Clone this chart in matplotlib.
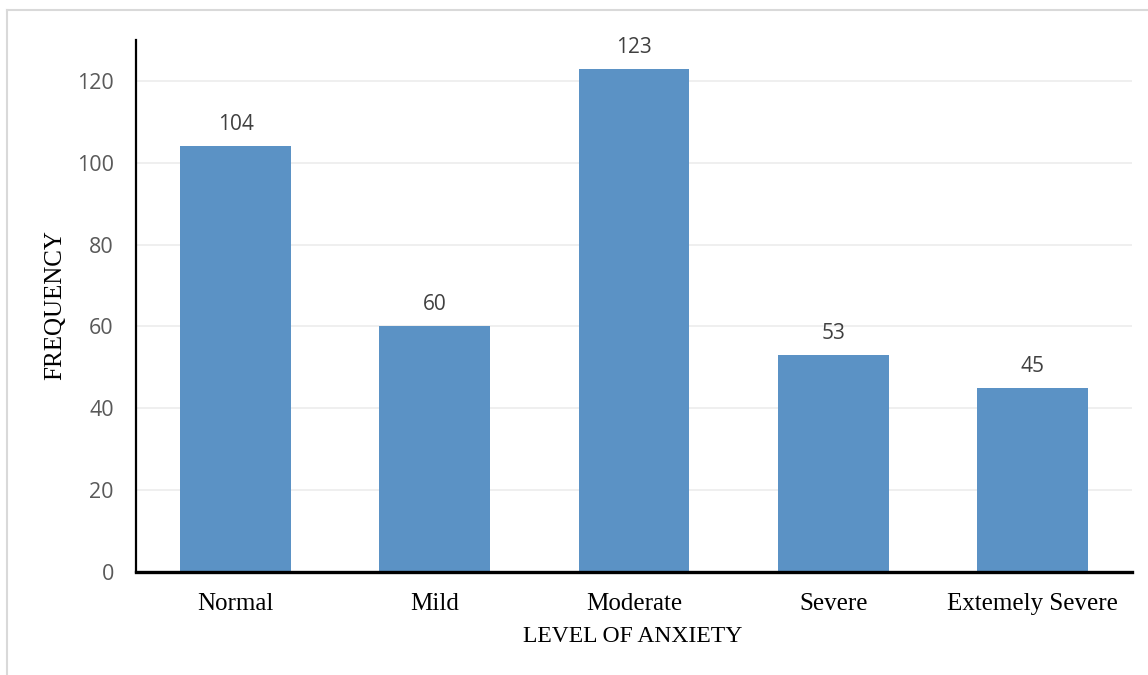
import matplotlib.pyplot as plt
from matplotlib.lines import Line2D
import numpy as np

levels = ["Normal", "Mild", "Moderate", "Severe", "Extemely Severe"]
counts = [104, 60, 123, 53, 45]
y_ticks = [0, 20, 40, 60, 80, 100, 120]

bar_color = "#5b92c5"
sans = "Open Sans"
serif = "Liberation Serif"

fig = plt.figure(figsize=(11.48, 6.75), dpi=100)
W, H = 1148, 675

# plot area in pixel coordinates
left, right, top, bottom = 136, 1132, 40, 572
ax = fig.add_axes([left / W, 1 - bottom / H, (right - left) / W, (bottom - top) / H])

x = np.arange(len(levels))
bars = ax.bar(x, counts, width=0.557, color=bar_color, zorder=2)

for xi, c in zip(x, counts):
    ax.annotate(str(c), (xi, c), xytext=(0, 11.5), textcoords="offset points",
                ha="center", va="baseline", fontsize=15, family=sans, color="#404040")

ax.set_xlim(-0.5, len(levels) - 0.5)
ax.set_ylim(0, 130)
ax.set_yticks(y_ticks)
ax.set_yticklabels([str(t) for t in y_ticks], family=sans, fontsize=15.5, color="#595959")
ax.set_xticks(x)
ax.set_xticklabels(levels, family=serif, fontsize=18, color="black")
ax.tick_params(axis="both", length=0)
ax.tick_params(axis="y", pad=16)
ax.tick_params(axis="x", pad=15)

ax.yaxis.grid(True, color="#eeeeee", linewidth=1.3, zorder=0)
ax.set_axisbelow(True)

for s in ["top", "right"]:
    ax.spines[s].set_visible(False)
ax.spines["left"].set_linewidth(1.6)
ax.spines["bottom"].set_linewidth(2.4)
ax.spines["left"].set_color("black")
ax.spines["bottom"].set_color("black")

fig.text(55 / W, 1 - 305 / H, "FREQUENCY", rotation=90, ha="center", va="center",
         family=serif, fontsize=18, color="black")
fig.text(633 / W, 1 - 636 / H, "LEVEL OF ANXIETY", ha="center", va="center",
         family=serif, fontsize=17, color="black")

# light outer frame (top and left edges)
fig.add_artist(Line2D([7 / W, 1], [1 - 10 / H, 1 - 10 / H], color="#d9d9d9",
                      linewidth=1.5, transform=fig.transFigure))
fig.add_artist(Line2D([7 / W, 7 / W], [0, 1 - 10 / H], color="#d9d9d9",
                      linewidth=1.5, transform=fig.transFigure))

fig.savefig("out.png", dpi=100)
